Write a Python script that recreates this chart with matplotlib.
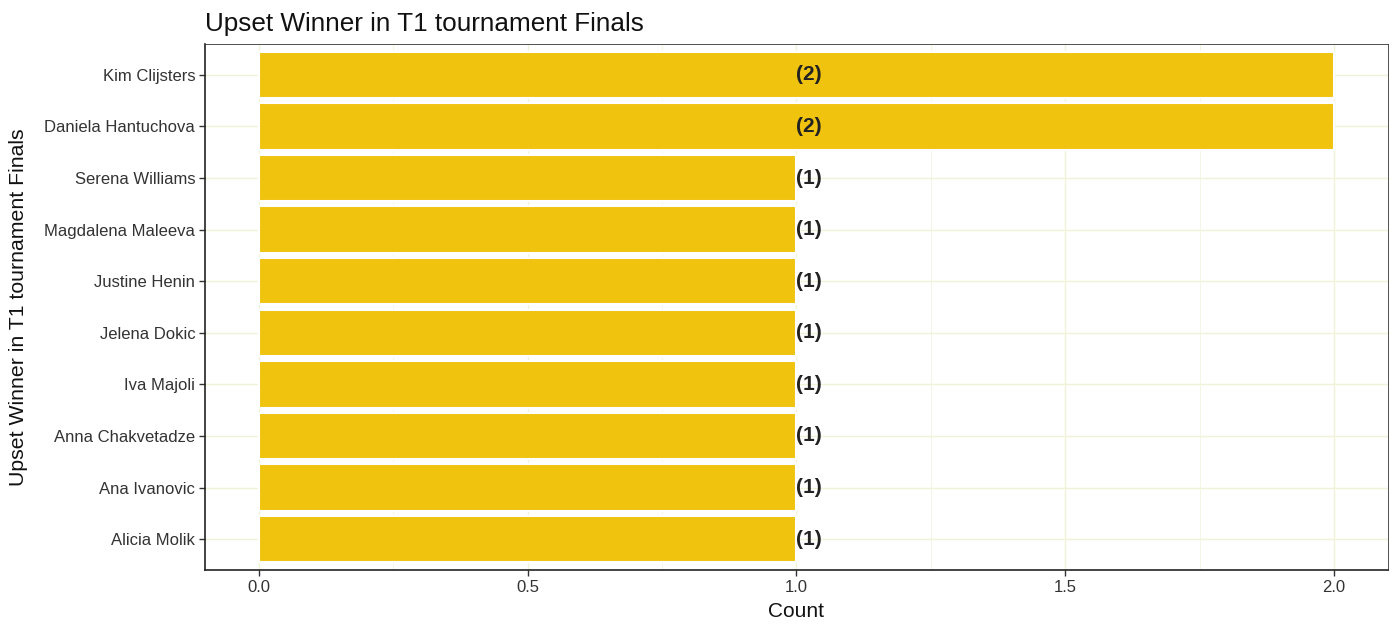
import numpy as np
import matplotlib.pyplot as plt

# data, listed bottom to top
players = ["Alicia Molik", "Ana Ivanovic", "Anna Chakvetadze", "Iva Majoli",
           "Jelena Dokic", "Justine Henin", "Magdalena Maleeva",
           "Serena Williams", "Daniela Hantuchova", "Kim Clijsters"]
counts = [1, 1, 1, 1, 1, 1, 1, 1, 2, 2]
label_x = 1.0

plt.rcParams['font.family'] = ['Liberation Sans', 'DejaVu Sans']

fig = plt.figure(figsize=(14, 6.3), dpi=100)
ax = fig.add_axes([0.1464, 0.0952, 0.845, 0.835])

ypos = np.arange(1, len(players) + 1)
ax.barh(ypos, counts, height=0.9, color='#F0C30F', edgecolor='white',
        linewidth=1.5, zorder=2)

for y, c in zip(ypos, counts):
    ax.text(label_x, y, "(%d)" % c, ha='left', va='center',
            fontsize=15, fontweight='bold', color='#222222', zorder=3)

ax.set_xlim(-0.1, 2.1)
ax.set_ylim(0.4, len(players) + 0.6)
ax.set_yticks(ypos)
ax.set_yticklabels(players)
ax.set_xticks([0.0, 0.5, 1.0, 1.5, 2.0])
ax.set_xticklabels(["0.0", "0.5", "1.0", "1.5", "2.0"])
ax.set_xticks([0.25, 0.75, 1.25, 1.75], minor=True)

ax.grid(True, which='major', color='#F2F2D8', linewidth=1.0, zorder=0)
ax.grid(True, which='minor', axis='x', color='#F4F4E0', linewidth=0.6, zorder=0)
ax.set_axisbelow(True)

ax.tick_params(axis='both', which='major', length=4, width=1, color='#333333',
               labelsize=12, labelcolor='#333333', pad=3)
ax.tick_params(axis='x', which='minor', length=0)

for side in ['top', 'right']:
    ax.spines[side].set_color('#333333')
    ax.spines[side].set_linewidth(0.6)
for side in ['left', 'bottom']:
    ax.spines[side].set_color('#222222')
    ax.spines[side].set_linewidth(1.2)

ax.set_xlabel("Count", fontsize=15, color='#111111', labelpad=5)
ax.set_ylabel("Upset Winner in T1 tournament Finals", fontsize=15.3,
              color='#111111')
ax.yaxis.set_label_coords(-0.1495, 0.5)
ax.set_title("Upset Winner in T1 tournament Finals", fontsize=18.8,
             loc='left', color='#111111', pad=9)

fig.savefig("out.png", dpi=100)
